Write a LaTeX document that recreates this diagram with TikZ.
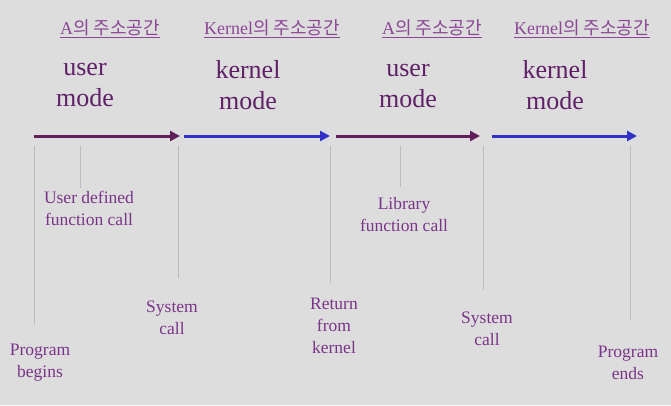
\documentclass[tikz,border=0pt]{standalone}
\usepackage{fontspec}
\setmainfont{Liberation Serif}
\newfontfamily\kr{Noto Sans CJK KR}
\usetikzlibrary{arrows.meta}
\definecolor{bg}{RGB}{221,221,221}
\definecolor{txt}{RGB}{96,32,104}
\definecolor{lbl}{RGB}{122,52,136}
\definecolor{hdr}{RGB}{140,70,150}
\definecolor{usr}{RGB}{98,30,88}
\definecolor{krn}{RGB}{50,50,200}
\definecolor{vl}{RGB}{188,188,190}
\tikzset{
  hdrtext/.style={text=hdr, font=\fontsize{18}{21}\selectfont, inner sep=0pt},
  modetext/.style={text=txt, font=\fontsize{26}{31}\selectfont, align=center, inner sep=0pt},
  lbltext/.style={text=lbl, font=\fontsize{17.5}{22}\selectfont, align=center, inner sep=0pt},
  usrarrow/.style={draw=usr, line width=3pt, -{Triangle[length=10pt,width=10pt]}},
  krnarrow/.style={draw=krn, line width=3pt, -{Triangle[length=10pt,width=10pt]}},
  vline/.style={draw=vl, line width=0.9pt},
}
\begin{document}
\begin{tikzpicture}[x=1pt,y=-1pt]
\fill[bg] (0,0) rectangle (671,405);
\useasboundingbox (0,0) rectangle (671,405);
% headers
\node[hdrtext] (h1) at (110,29) {\underline{A{\kr 의 주소공간}}};
\node[hdrtext] (h2) at (272,29) {\underline{Kernel{\kr 의 주소공간}}};
\node[hdrtext] (h3) at (432,29) {\underline{A{\kr 의 주소공간}}};
\node[hdrtext] (h4) at (582,29) {\underline{Kernel{\kr 의 주소공간}}};
% modes
\node[modetext] (m1) at (85,85) {user\\mode};
\node[modetext] (m2) at (248,85) {kernel\\mode};
\node[modetext] (m3) at (408,86) {user\\mode};
\node[modetext] (m4) at (555,85) {kernel\\mode};
% arrow coordinates
\coordinate (a1s) at (34,136); \coordinate (a1e) at (180,136);
\coordinate (a2s) at (184,136); \coordinate (a2e) at (330,136);
\coordinate (a3s) at (336,136); \coordinate (a3e) at (480,136);
\coordinate (a4s) at (492,136); \coordinate (a4e) at (637,136);
\draw[usrarrow] (a1s) -- (a1e);
\draw[krnarrow] (a2s) -- (a2e);
\draw[usrarrow] (a3s) -- (a3e);
\draw[krnarrow] (a4s) -- (a4e);
% vertical lines
\coordinate (v1t) at (34,146); \coordinate (v1b) at (34,325);
\coordinate (v2t) at (80,146); \coordinate (v2b) at (80,188);
\coordinate (v3t) at (178,146); \coordinate (v3b) at (178,278);
\coordinate (v4t) at (330,146); \coordinate (v4b) at (330,283);
\coordinate (v5t) at (400,146); \coordinate (v5b) at (400,187);
\coordinate (v6t) at (483,146); \coordinate (v6b) at (483,290);
\coordinate (v7t) at (630,146); \coordinate (v7b) at (630,320);
\foreach \i in {1,...,7} { \draw[vline] (v\i t) -- (v\i b); }
% labels
\node[lbltext] (l1) at (40,363) {Program\\begins};
\node[lbltext] (l2) at (89,208) {User defined\\function call};
\node[lbltext] (l3) at (172,318) {System\\call};
\node[lbltext] (l4) at (334,326) {Return\\from\\kernel};
\node[lbltext] (l5) at (404,215) {Library\\function call};
\node[lbltext] (l6) at (487,329) {System\\call};
\node[lbltext] (l7) at (628,363) {Program\\ends};
\end{tikzpicture}
\end{document}
